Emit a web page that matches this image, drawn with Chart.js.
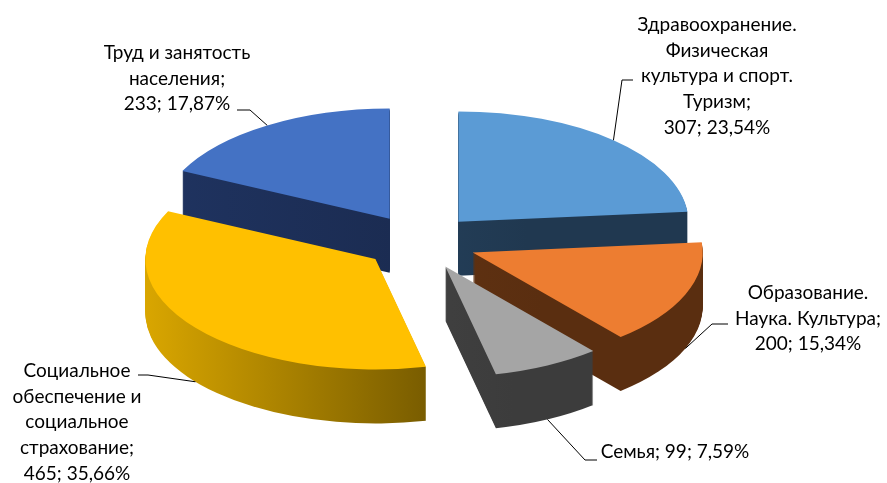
<!DOCTYPE html>
<html>
<head>
<meta charset="utf-8">
<script src="https://cdn.jsdelivr.net/npm/chart.js@4/dist/chart.umd.min.js"></script>
<style>
  html, body { margin: 0; padding: 0; background: #fff; }
</style>
</head>
<body>
<canvas id="chart" width="887" height="483"></canvas>
<script>
// categories (multi-line, as on the picture) and values
const categories = [
  ['Здравоохранение.', 'Физическая', 'культура и спорт.', 'Туризм'],
  ['Образование.', 'Наука. Культура'],
  ['Семья'],
  ['Социальное', 'обеспечение и', 'социальное', 'страхование'],
  ['Труд и занятость', 'населения']
];
const values = [307, 200, 99, 465, 233];

const topColors = ['#5B9BD5', '#ED7D31', '#A5A5A5', '#FFC000', '#4472C4'];
const sideColors = [
  ['#2A4A68', '#203850'],
  ['#6A3816', '#5A2E10'],
  ['#4A4A4A', '#3C3C3C'],
  ['#D9A600', '#735800'],
  ['#1F3360', '#1A2A4E']
];

// 3d look
const PIE_CX = 420, PIE_CY = 242, TILT = 0.48, DEPTH = 54, EXPLODE = 57;

// label layout: centre x, first line y, leader anchor depth, elbow points
const labelLayout = [
  { x: 717, y: 25, depth: 0, path: [[622, 80], [633, 80]] },
  { x: 808, y: 293, depth: 1, path: [[712, 324], [728, 324]] },
  { x: 675, y: 452, depth: 1, inline: true, path: [[585, 460], [597, 460]] },
  { x: 77, y: 371, depth: 1, path: [[148, 375], [138, 375]] },
  { x: 177, y: 53, depth: 0, path: [[250, 110], [237, 110]] }
];

const total = values.reduce((s, v) => s + v, 0);
const pct = v => (v / total * 100).toFixed(2).replace('.', ',') + '%';
const midAngle = a => (a.startAngle + a.endAngle) / 2;

const pie3d = {
  id: 'pie3d',
  beforeDatasetsDraw(chart) {
    const ctx = chart.ctx;
    const arcs = chart.getDatasetMeta(0).data;
    const c0 = arcs[0];
    const order = arcs.map((a, i) => i)
      .sort((i, j) => Math.sin(midAngle(arcs[i])) - Math.sin(midAngle(arcs[j])));
    ctx.save();
    ctx.translate(PIE_CX, PIE_CY);
    ctx.scale(1, TILT);
    ctx.translate(-c0.x, -c0.y);
    // sides, back to front
    order.forEach(i => {
      const a = arcs[i];
      const m = midAngle(a);
      const ox = a.x + Math.cos(m) * EXPLODE, oy = a.y + Math.sin(m) * EXPLODE;
      const g = ctx.createLinearGradient(ox - a.outerRadius, 0, ox + a.outerRadius * 0.3, 0);
      g.addColorStop(0, sideColors[i][0]);
      g.addColorStop(1, sideColors[i][1]);
      ctx.fillStyle = g;
      for (let d = DEPTH; d > 0; d--) {
        ctx.beginPath();
        ctx.moveTo(ox, oy + d / TILT);
        ctx.arc(ox, oy + d / TILT, a.outerRadius, a.startAngle, a.endAngle);
        ctx.closePath();
        ctx.fill();
      }
    });
    // top faces drawn by the library's arc elements
    arcs.forEach(a => {
      const m = midAngle(a);
      ctx.save();
      ctx.translate(Math.cos(m) * EXPLODE, Math.sin(m) * EXPLODE);
      a.draw(ctx);
      ctx.restore();
    });
    ctx.restore();
    return false;
  },
  afterDraw(chart) {
    const ctx = chart.ctx;
    const arcs = chart.getDatasetMeta(0).data;
    ctx.save();
    ctx.font = '19px Lato';
    ctx.fillStyle = '#000';
    ctx.strokeStyle = '#000';
    ctx.lineWidth = 1;
    ctx.textAlign = 'center';
    ctx.textBaseline = 'middle';
    arcs.forEach((a, i) => {
      const L = labelLayout[i];
      const m = midAngle(a);
      const r = a.outerRadius + EXPLODE;
      const ax = PIE_CX + Math.cos(m) * r;
      const ay = PIE_CY + Math.sin(m) * r * TILT + L.depth * DEPTH;
      ctx.beginPath();
      ctx.moveTo(ax, ay);
      L.path.forEach(p => ctx.lineTo(p[0], p[1]));
      ctx.stroke();
      let lines = categories[i].slice();
      if (L.inline) {
        lines = [lines.join(' ') + '; ' + values[i] + '; ' + pct(values[i])];
      } else {
        lines[lines.length - 1] += ';';
        lines.push(values[i] + '; ' + pct(values[i]));
      }
      lines.forEach((t, k) => ctx.fillText(t, L.x, L.y + k * 25.6));
    });
    ctx.restore();
  }
};

new Chart(document.getElementById('chart'), {
  type: 'pie',
  data: {
    labels: categories,
    datasets: [{
      data: values,
      backgroundColor: topColors,
      borderWidth: 0,
      radius: 230
    }]
  },
  options: {
    responsive: false,
    devicePixelRatio: 1,
    animation: false,
    layout: { padding: 0 },
    plugins: {
      legend: { display: false },
      tooltip: { enabled: false }
    }
  },
  plugins: [pie3d]
});
</script>
</body>
</html>
